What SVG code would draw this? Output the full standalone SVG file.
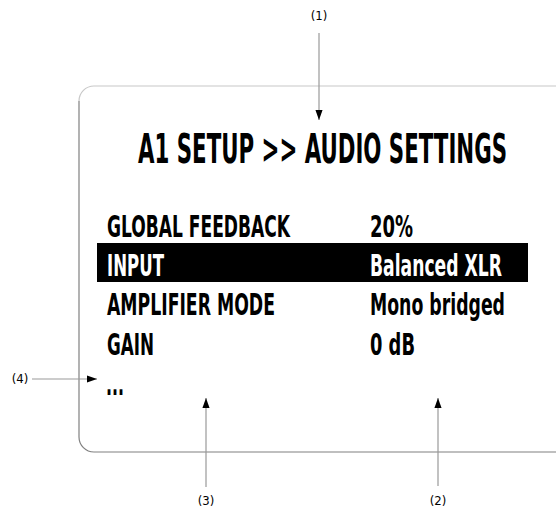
<svg xmlns="http://www.w3.org/2000/svg" width="556" height="508" viewBox="0 0 556 508">
<defs>
<style>
.t{font-family:"Liberation Sans Narrow","DejaVu Sans Condensed","Liberation Sans",sans-serif;font-weight:bold;fill:#000}
.row{font-size:30px}
.lbl{font-size:13px;text-anchor:middle;font-weight:normal}
.ln{stroke:#999;stroke-width:1.2;fill:none}
</style>
<marker id="ah" markerWidth="10" markerHeight="16" refX="14" refY="5" viewBox="0 0 14 10" markerUnits="userSpaceOnUse" orient="auto">
<path d="M0,0 L14,5 L0,10 Z" fill="#000"/>
</marker>
</defs>
<rect width="556" height="508" fill="#fff"/>
<g id="screen">
<path d="M556,86 H94 A15,15 0 0 0 79,101" fill="none" stroke="#c8c8c8" stroke-width="1.2"/>
<path d="M79,101 V437 A15,15 0 0 0 94,452 H556" fill="none" stroke="#808080" stroke-width="1.2"/>
</g>
<g id="title">
<text class="t" x="138" y="163" font-size="40" textLength="369" lengthAdjust="spacingAndGlyphs">A1 SETUP &gt;&gt; AUDIO SETTINGS</text>
</g>
<g id="highlight">
<rect x="97" y="243" width="431" height="39" fill="#000"/>
</g>
<g id="rows">
<text class="t row" x="107" y="237" textLength="183" lengthAdjust="spacingAndGlyphs">GLOBAL FEEDBACK</text>
<text class="t row" x="370" y="237" textLength="43" lengthAdjust="spacingAndGlyphs">20%</text>
<text class="t row" x="107" y="276" textLength="57" lengthAdjust="spacingAndGlyphs" style="fill:#fff">INPUT</text>
<text class="t row" x="370" y="276" textLength="132" lengthAdjust="spacingAndGlyphs" style="fill:#fff">Balanced XLR</text>
<text class="t row" x="107" y="315" textLength="168" lengthAdjust="spacingAndGlyphs">AMPLIFIER MODE</text>
<text class="t row" x="370" y="315" textLength="135" lengthAdjust="spacingAndGlyphs">Mono bridged</text>
<text class="t row" x="107" y="355" textLength="47" lengthAdjust="spacingAndGlyphs">GAIN</text>
<text class="t row" x="370" y="355" textLength="45" lengthAdjust="spacingAndGlyphs">0 dB</text>
<text class="t row" x="106" y="395" textLength="18" lengthAdjust="spacingAndGlyphs">...</text>
</g>
<g id="connectors">
<line class="ln" x1="319" y1="33" x2="319" y2="120" marker-end="url(#ah)"/>
<line class="ln" x1="32" y1="379" x2="97" y2="379" marker-end="url(#ah)"/>
<line class="ln" x1="206" y1="487" x2="206" y2="398" marker-end="url(#ah)"/>
<line class="ln" x1="438" y1="486" x2="438" y2="398" marker-end="url(#ah)"/>
</g>
<g id="labels">
<text class="t lbl" x="319" y="20">(1)</text>
<text class="t lbl" x="20" y="383">(4)</text>
<text class="t lbl" x="206" y="505">(3)</text>
<text class="t lbl" x="438" y="505">(2)</text>
</g>
</svg>
